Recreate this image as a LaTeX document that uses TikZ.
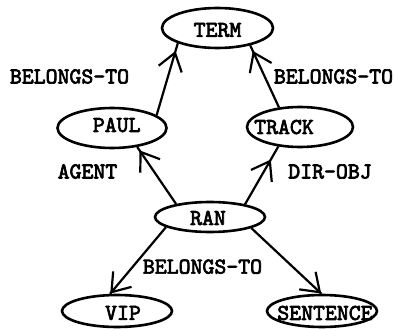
\documentclass[tikz,border=0pt]{standalone}
\usepackage{fontspec}
\newfontfamily\lblfont{lmmono10-regular.otf}[FakeBold=3]
\usetikzlibrary{arrows.meta,decorations.markings,shapes.geometric}
\begin{document}
\begin{tikzpicture}[x=1pt,y=-1pt,
  oval/.style={draw,ellipse,line width=2.6pt,inner sep=0pt},
  lbl/.style={font=\fontsize{22.7}{24}\selectfont\lblfont,inner sep=0pt},
  link/.style={line width=2.2pt},
  headat/.style={postaction={decorate},decoration={markings,mark=at position #1 with {\arrow{Straight Barb[length=17pt,width=24pt,line width=2.2pt]}}}}
]
\fill[white] (0,0) rectangle (397,329);
\useasboundingbox (0,0) rectangle (397,329);

\node[oval,minimum width=111pt,minimum height=40pt] (term) at (217.5,28) {};
\node[oval,minimum width=109pt,minimum height=40pt] (paul) at (112,128) {};
\node[oval,minimum width=106pt,minimum height=40pt] (track) at (300,127) {};
\node[oval,minimum width=110pt,minimum height=30pt] (ran) at (210,217) {};
\node[oval,minimum width=110pt,minimum height=32pt] (vip) at (117,311) {};
\node[oval,minimum width=110pt,minimum height=32pt] (sentence) at (322,311) {};

\node[lbl] (termtxt) at (217.5,30) {TERM};
\node[lbl] (paultxt) at (116.7,125) {PAUL};
\node[lbl] (tracktxt) at (284,127) {TRACK};
\node[lbl] (rantxt) at (208,218) {RAN};
\node[lbl] (viptxt) at (123,313) {VIP};
\node[lbl] (senttxt) at (325,313) {SENTENCE};

\node[lbl] (bl1) at (69.5,76.5) {BELONGS-TO};
\node[lbl] (bl2) at (333.5,76.5) {BELONGS-TO};
\node[lbl] (agent) at (87.5,171.5) {AGENT};
\node[lbl] (dirobj) at (330,171.5) {DIR-OBJ};
\node[lbl] (bl3) at (202.5,266.7) {BELONGS-TO};

\draw[link,headat=-8pt] (paul.16) -- (term.201);
\draw[link,headat=-6pt] (track.137) -- (term.332);
\draw[link,headat=-4pt] (ran.159) -- (paul.323);
\draw[link,headat=-15pt] (ran.20) -- (track.222);
\draw[link,headat=1] (ran.193) -- (vip.112);
\draw[link,headat=1] (ran.345) -- (sentence.92);
\end{tikzpicture}
\end{document}
